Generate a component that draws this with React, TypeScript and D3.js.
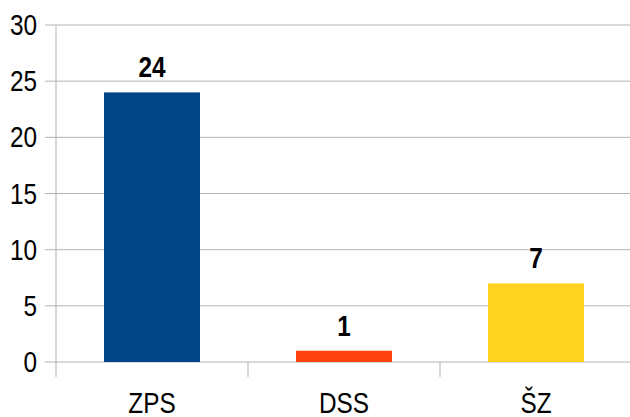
import * as d3 from 'd3';

const categories = ['ZPS', 'DSS', 'ŠZ'];
const values = [24, 1, 7];
const colors = ['#004586', '#ff420e', '#ffd320'];
const yTicks = [0, 5, 10, 15, 20, 25, 30];

const width = 630;
const height = 417;
const left = 56;
const right = 632;
const top = 25;
const bottom = 362;
const font = '"Liberation Sans", Arial, sans-serif';

// narrow look: Liberation Sans squeezed horizontally
function Label(props: {
  x: number;
  y: number;
  anchor: 'start' | 'middle' | 'end';
  bold?: boolean;
  children: React.ReactNode;
}): JSX.Element {
  return (
    <text
      transform={`translate(${props.x},${props.y}) scale(0.84,1)`}
      textAnchor={props.anchor}
      fontFamily={font}
      fontWeight={props.bold ? 'bold' : 'normal'}
      fontSize={29}
      fill="#000"
    >
      {props.children}
    </text>
  );
}

export default function App(): JSX.Element {
  const x = d3
    .scaleBand<string>()
    .domain(categories)
    .range([left, right])
    .paddingInner(0.5)
    .paddingOuter(0.25);
  const y = d3.scaleLinear().domain([0, 30]).range([bottom, top]);
  const step = x.step();
  const boundaries = d3.range(categories.length + 1).map((i) => left + i * step);

  return (
    <svg
      xmlns="http://www.w3.org/2000/svg"
      width={width}
      height={height}
      style={{ position: 'absolute', left: 0, top: 0, background: '#fff' }}
    >
      {yTicks.map((t) => (
        <g key={t}>
          <line x1={45} x2={right} y1={y(t)} y2={y(t)} stroke="#b3b3b3" strokeWidth={1} />
          <Label x={37} y={y(t) + 10} anchor="end">
            {t}
          </Label>
        </g>
      ))}
      <line x1={left} x2={left} y1={top} y2={bottom + 15} stroke="#b3b3b3" strokeWidth={1} />
      {boundaries.slice(1).map((bx, i) => (
        <line key={i} x1={bx} x2={bx} y1={bottom} y2={bottom + 15} stroke="#b3b3b3" strokeWidth={1} />
      ))}
      {categories.map((c, i) => {
        const cx = (x(c) ?? 0) + x.bandwidth() / 2;
        return (
          <g key={c}>
            <rect
              x={x(c)}
              y={y(values[i])}
              width={x.bandwidth()}
              height={bottom - y(values[i])}
              fill={colors[i]}
            />
            <Label x={cx} y={y(values[i]) - 15} anchor="middle" bold>
              {values[i]}
            </Label>
            <Label x={cx} y={413} anchor="middle">
              {c}
            </Label>
          </g>
        );
      })}
    </svg>
  );
}
